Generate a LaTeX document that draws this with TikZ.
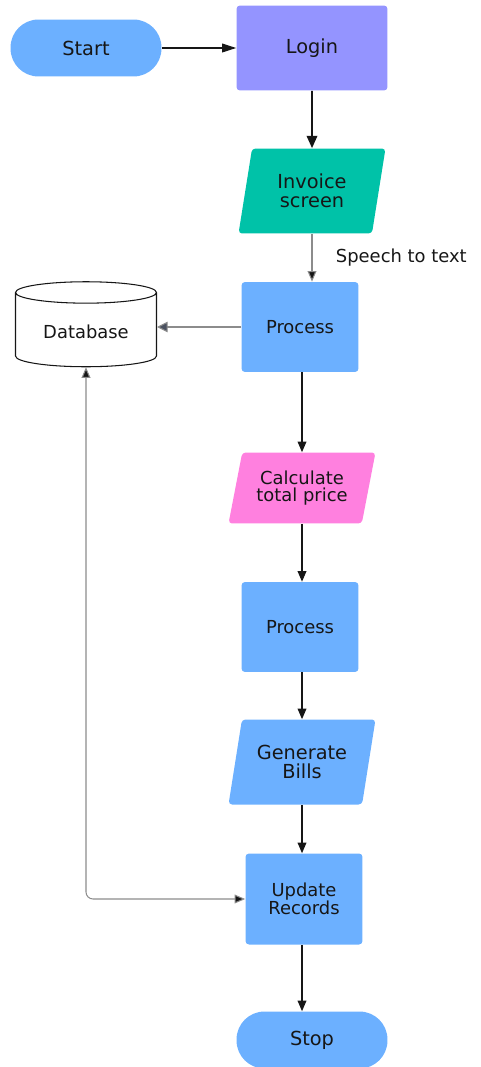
\documentclass[tikz,border=0pt]{standalone}
\usepackage{fontspec}
\setmainfont{DejaVu Sans}
\usepackage{tikz}
\usetikzlibrary{arrows.meta, positioning, shapes.geometric}
\definecolor{skyblue}{HTML}{6CB0FF}
\definecolor{lavender}{HTML}{9494FF}
\definecolor{mint}{HTML}{00C2A8}
\definecolor{rosy}{HTML}{FF80DF}
\definecolor{ink}{HTML}{161616}
\definecolor{wire}{HTML}{8C8C8C}
\definecolor{slate}{HTML}{4A5160}
\newcommand{\bigtxt}{\fontsize{11}{11}\selectfont}
\newcommand{\smalltxt}{\fontsize{10.2}{10}\selectfont}
\tikzset{
  terminal/.style={fill=skyblue, rounded corners=0.56cm, minimum width=3.02cm,
    minimum height=1.14cm, font=\bigtxt, text=ink},
  procbox/.style={fill=skyblue, rounded corners=0.07cm, minimum width=2.34cm,
    minimum height=1.8cm, font=\smalltxt, text=ink, align=center},
  iobox/.style={trapezium, trapezium left angle=73.6, trapezium right angle=106.4,
    trapezium stretches body, rounded corners=0.07cm, minimum width=2.94cm,
    minimum height=1.7cm, text=ink, align=center},
  dbase/.style={cylinder, shape border rotate=90, aspect=0.22, draw=ink, fill=white,
    line width=0.6pt, minimum width=2.82cm, minimum height=1.7cm, font=\smalltxt, text=ink},
  flow/.style={draw=ink, line width=0.6pt, -{Triangle[length=6pt,width=5pt]}},
}
\begin{document}
\begin{tikzpicture}[x=0.02cm, y=-0.02cm]
  \useasboundingbox (0,0) rectangle (480,1067);
  % Top row
  \node[terminal] (start) at (86,48) {Start};
  \node[procbox, fill=lavender, minimum width=3.02cm, minimum height=1.7cm, font=\bigtxt] (login) at (312,48) {Login};
  % Main column
  \node[iobox, fill=mint, font=\bigtxt] (invoice) at (312,191) {Invoice\\screen};
  \node[procbox] (proc1) at (300,327) {Process};
  \node[iobox, fill=rosy, font=\smalltxt, minimum height=1.42cm] (calc) at (302,488) {Calculate\\total price};
  \node[procbox] (proc2) at (300,627) {Process};
  \node[iobox, fill=skyblue, font=\bigtxt] (bills) at (302,762) {Generate\\Bills};
  \node[procbox, minimum height=1.82cm] (update) at (304,899) {Update\\Records};
  \node[terminal] (stop) at (312,1040) {Stop};
  % Side store
  \node[dbase] (db) at (86,332) {Database};
  % Connectors
  \draw[flow, -{Triangle[length=8pt,width=5pt]}] (start) -- (login);
  \draw[flow, line width=1pt, -{Triangle[length=7pt,width=6pt]}] (login) -- (invoice);
  \draw[flow, draw=wire, -{Triangle[length=6pt,width=5pt,fill=ink]}] (invoice.south) -- (invoice.south |- proc1.north)
    node[midway, right=10pt, font=\smalltxt, text=ink] (stt) {Speech to text};
  \draw[flow, draw=wire, -{Triangle[length=6pt,width=6pt,fill=slate]}] (proc1.west) -- (db.east |- proc1.west);
  \draw[flow] (proc1.south -| calc.north) -- (calc.north);
  \draw[flow] (calc.south) -- (calc.south |- proc2.north);
  \draw[flow] (proc2.south -| bills.north) -- (bills.north);
  \draw[flow] (bills.south) -- (bills.south |- update.north);
  \draw[flow] (update.south -| bills.south) -- (bills.south |- stop.north);
  \draw[flow, draw=wire, {Triangle[length=6pt,width=5pt,fill=ink]}-{Triangle[length=6pt,width=5pt,fill=ink]},
    rounded corners=4pt] (db.south) |- (update.west);
\end{tikzpicture}
\end{document}
